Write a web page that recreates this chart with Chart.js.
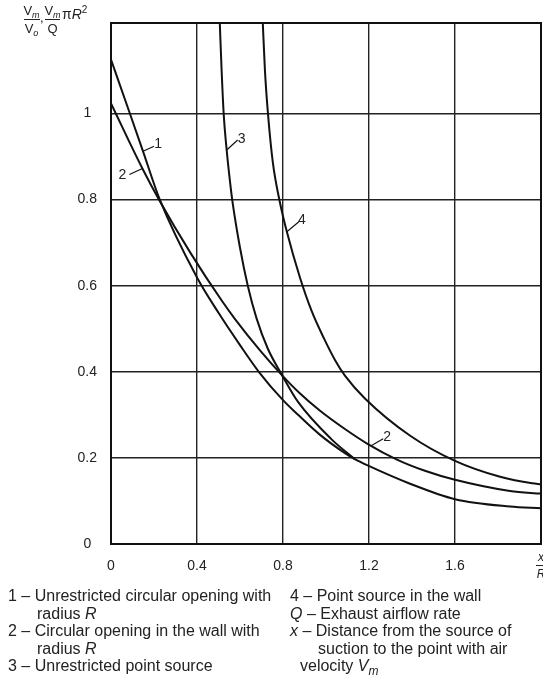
<!DOCTYPE html>
<html>
<head>
<meta charset="utf-8">
<script src="https://cdn.jsdelivr.net/npm/chart.js@4.4.0/dist/chart.umd.min.js"></script>
<style>
  html, body { margin: 0; padding: 0; background: #fff; }
</style>
</head>
<body>
<canvas id="chart" width="543" height="679"></canvas>
<script>
const FONT = 'Arial, "Liberation Sans", Helvetica, sans-serif';

// axis ticks
const xTicks = [0, 0.4, 0.8, 1.2, 1.6, 2.0];
const xTickLabels = ['0', '0.4', '0.8', '1.2', '1.6', ''];
const yTicks = [0, 0.2, 0.4, 0.6, 0.8, 1.0];
const yTickLabels = ['0', '0.2', '0.4', '0.6', '0.8', '1'];

// 1 - unrestricted circular opening
const curve1X = [0, 0.087, 0.149, 0.226, 0.40, 0.50, 0.60, 0.692, 0.80, 0.870, 0.971, 1.088, 1.134, 1.196, 1.391, 1.60, 1.856, 2.0];
const curve1Y = [1.125, 1.001, 0.912, 0.801, 0.619, 0.537, 0.462, 0.397, 0.334, 0.300, 0.254, 0.211, 0.197, 0.182, 0.140, 0.104, 0.087, 0.083];

// 2 - circular opening in the wall
const curve2X = [0, 0.146, 0.224, 0.371, 0.514, 0.576, 0.694, 0.797, 0.878, 0.971, 1.088, 1.195, 1.330, 1.460, 1.60, 1.856, 2.0];
const curve2Y = [1.023, 0.872, 0.799, 0.675, 0.566, 0.523, 0.449, 0.391, 0.350, 0.310, 0.267, 0.232, 0.196, 0.170, 0.149, 0.123, 0.117];

// 3 - unrestricted point source
const curve3X = [0.506, 0.514, 0.524, 0.538, 0.555, 0.565, 0.600, 0.637, 0.677, 0.729, 0.797, 0.870, 1.026, 1.134];
const curve3Y = [1.21, 1.106, 1.0, 0.915, 0.835, 0.795, 0.688, 0.598, 0.524, 0.454, 0.391, 0.330, 0.243, 0.197];

// 4 - point source in the wall
const curve4X = [0.706, 0.716, 0.730, 0.753, 0.785, 0.818, 0.878, 0.934, 0.990, 1.041, 1.088, 1.181, 1.390, 1.60, 1.810, 1.959, 2.0];
const curve4Y = [1.21, 1.10, 1.0, 0.885, 0.795, 0.725, 0.620, 0.540, 0.478, 0.428, 0.391, 0.338, 0.252, 0.193, 0.156, 0.141, 0.139];

// curve tags (where the leader touches the curve)
const tagText = ['1', '2', '3', '4', '2'];
const tagX = [0.149, 0.146, 0.538, 0.818, 1.21];
const tagY = [0.912, 0.872, 0.915, 0.725, 0.228];

const pts = (xs, ys) => xs.map((v, i) => ({ x: v, y: ys[i] }));

const lineStyle = {
  borderColor: '#111',
  borderWidth: 2,
  pointRadius: 0,
  fill: false,
  cubicInterpolationMode: 'monotone'
};

// leader end / text offsets in px for each tag
const tagLead = [[11, -5], [-13, 6], [11, -10], [12, -10], [12, -7]];
const tagPos = [[15, -7], [-20, 7], [15, -11], [15, -12], [16, -9]];

const legendLines = [
  [8, 601, [['1 – Unrestricted circular opening with']]],
  [37, 619, [['radius '], ['R', 'i']]],
  [8, 636, [['2 – Circular opening in the wall with']]],
  [37, 654, [['radius '], ['R', 'i']]],
  [8, 671, [['3 – Unrestricted point source']]],
  [290, 601, [['4 – Point source in the wall']]],
  [290, 619, [['Q', 'i'], [' – Exhaust airflow rate']]],
  [290, 636, [['x', 'i'], [' – Distance from the source of']]],
  [318, 654, [['suction to the point with air']]],
  [300, 671, [['velocity '], ['V', 'i'], ['m', 'si']]]
];

function drawRuns(ctx, x, y, parts, size) {
  parts.forEach(([t, st = '']) => {
    const sub = st.includes('s'), sup = st.includes('u');
    const sz = (sub || sup) ? Math.round(size * 0.72) : size;
    ctx.font = (st.includes('i') ? 'italic ' : '') + sz + 'px ' + FONT;
    const yy = sub ? y + size * 0.28 : sup ? y - size * 0.42 : y;
    ctx.fillText(t, x, yy);
    x += ctx.measureText(t).width;
  });
  return x;
}

function runsWidth(ctx, parts, size) {
  let w = 0;
  parts.forEach(([t, st = '']) => {
    const sz = (st.includes('s') || st.includes('u')) ? Math.round(size * 0.72) : size;
    ctx.font = (st.includes('i') ? 'italic ' : '') + sz + 'px ' + FONT;
    w += ctx.measureText(t).width;
  });
  return w;
}

function fraction(ctx, cx, top, bottom, barY, x0, x1, size) {
  const tw = runsWidth(ctx, top, size), bw = runsWidth(ctx, bottom, size);
  drawRuns(ctx, cx - tw / 2, barY - 5, top, size);
  drawRuns(ctx, cx - bw / 2, barY + size, bottom, size);
  ctx.beginPath();
  ctx.moveTo(x0, barY);
  ctx.lineTo(x1, barY);
  ctx.stroke();
}

const decor = {
  id: 'decor',
  afterDatasetsDraw(chart) {
    const { ctx, chartArea: a, scales: { x, y } } = chart;
    ctx.save();
    ctx.strokeStyle = '#111';
    ctx.lineWidth = 2;
    ctx.strokeRect(a.left, a.top, a.right - a.left, a.bottom - a.top);

    // curve numbers with leaders
    ctx.fillStyle = '#222';
    ctx.lineWidth = 1.2;
    ctx.textAlign = 'center';
    ctx.textBaseline = 'middle';
    ctx.font = '14px ' + FONT;
    tagText.forEach((t, i) => {
      const px = x.getPixelForValue(tagX[i]);
      const py = y.getPixelForValue(tagY[i]);
      ctx.beginPath();
      ctx.moveTo(px, py);
      ctx.lineTo(px + tagLead[i][0], py + tagLead[i][1]);
      ctx.stroke();
      ctx.fillText(t, px + tagPos[i][0], py + tagPos[i][1]);
    });
    ctx.restore();
  },
  afterDraw(chart) {
    const { ctx } = chart;
    ctx.save();
    ctx.fillStyle = '#222';
    ctx.strokeStyle = '#222';
    ctx.lineWidth = 1;
    ctx.textAlign = 'left';
    ctx.textBaseline = 'alphabetic';

    // y axis title
    fraction(ctx, 31.5, [['V'], ['m', 'si']], [['V'], ['o', 'si']], 19.5, 24, 40, 13);
    ctx.font = '13px ' + FONT;
    ctx.fillText(',', 40, 22);
    fraction(ctx, 52.5, [['V'], ['m', 'si']], [['Q']], 19.5, 45, 60, 13);
    drawRuns(ctx, 62, 19, [['π'], ['R', 'i'], ['2', 'u']], 14);

    // x/R at the end of the x axis
    fraction(ctx, 541, [['x', 'i']], [['R', 'i']], 565.5, 536, 546, 12);

    // key
    legendLines.forEach(([lx, ly, parts]) => drawRuns(ctx, lx, ly, parts, 16));
    ctx.restore();
  }
};

new Chart(document.getElementById('chart'), {
  type: 'line',
  data: {
    datasets: [
      { label: '1', data: pts(curve1X, curve1Y), ...lineStyle },
      { label: '2', data: pts(curve2X, curve2Y), ...lineStyle },
      { label: '3', data: pts(curve3X, curve3Y), ...lineStyle },
      { label: '4', data: pts(curve4X, curve4Y), ...lineStyle }
    ]
  },
  options: {
    responsive: false,
    animation: false,
    devicePixelRatio: 1,
    layout: { padding: { top: 23, right: 2, left: 0, bottom: 0 } },
    plugins: { legend: { display: false }, tooltip: { enabled: false } },
    scales: {
      x: {
        type: 'linear',
        min: 0,
        max: 2.0,
        afterBuildTicks: s => { s.ticks = xTicks.map(v => ({ value: v })); },
        afterFit: s => { s.height = 135; s.paddingRight = 0; s.paddingLeft = 0; },
        grid: { color: '#222', lineWidth: 1.4, drawTicks: false },
        border: { display: false },
        ticks: {
          padding: 14,
          color: '#222',
          font: { family: FONT, size: 14 },
          maxRotation: 0,
          autoSkip: false,
          callback: (v, i) => xTickLabels[i]
        }
      },
      y: {
        type: 'linear',
        min: 0,
        max: 1.21,
        afterBuildTicks: s => { s.ticks = yTicks.map(v => ({ value: v })); },
        afterFit: s => { s.width = 111; },
        grid: { color: '#222', lineWidth: 1.4, drawTicks: false },
        border: { display: false },
        ticks: {
          padding: 14,
          crossAlign: 'center',
          color: '#222',
          font: { family: FONT, size: 14 },
          autoSkip: false,
          callback: (v, i) => yTickLabels[i]
        }
      }
    }
  },
  plugins: [decor]
});
</script>
</body>
</html>
